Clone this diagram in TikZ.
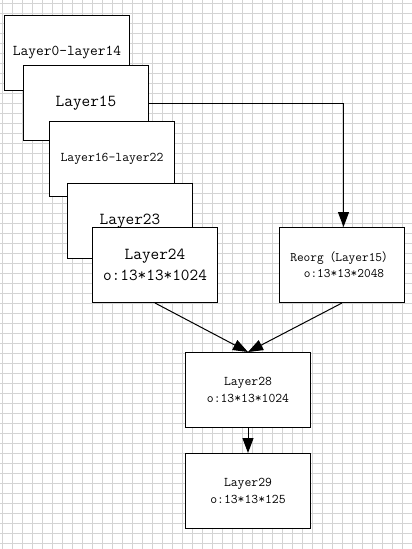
\documentclass[tikz,border=0pt]{standalone}
\usepackage{fontspec}
\newfontfamily\cjk{Noto Sans CJK SC}
\usetikzlibrary{arrows.meta}
\definecolor{gridc}{RGB}{212,212,212}
\begin{document}
\begin{tikzpicture}[x=1pt,y=-1pt,
  box/.style={draw=black,line width=1pt,fill=white,minimum width=125pt,minimum height=75pt,inner sep=0pt,align=center,anchor=north west},
  conn/.style={line width=1pt,-{Triangle[length=15pt,width=11pt]}},
  fbig/.style={font=\ttfamily\fontsize{16.8}{21}\selectfont},
  fmid/.style={font=\ttfamily\fontsize{15}{19}\selectfont},
  fsmall/.style={font=\ttfamily\fontsize{13.3}{17}\selectfont},
  fxs/.style={font=\ttfamily\fontsize{13}{16}\selectfont}]
\useasboundingbox (0,0) rectangle (412,549);
\fill[white] (0,0) rectangle (412,549);
\foreach \i in {2,12,...,412} \draw[gridc,line width=0.7pt] (\i,0) -- (\i,549);
\foreach \j in {3,13,...,549} \draw[gridc,line width=0.7pt] (0,\j) -- (412,\j);

\node[box,fmid] (l0) at (4,15) {Layer0-layer14};
\node[box,fbig] (l15) at (23,65) {Layer15};
\node[box,fsmall] (l16) at (49,121) {Layer16-layer22};
\node[box,fbig] (l23) at (67,183) {Layer23};
\node[box,fbig] (l24) at (92,227) {Layer24\\o:13*13*1024};
\node[box,fxs] (reorg) at (279,227) {Reorg{\cjk\fontsize{11.5}{16}\selectfont （}Layer15{\cjk\fontsize{11.5}{16}\selectfont ）}\\\hspace*{4pt}o:13*13*2048};
\node[box,fsmall] (l28) at (185,352) {Layer28\\o:13*13*1024};
\node[box,fsmall] (l29) at (185,453) {Layer29\\o:13*13*125};

\draw[conn] (l15.east) -| ([xshift=1.5pt]reorg.north);
\draw[conn] (l24.south) -- (l28.north);
\draw[conn] (reorg.south) -- (l28.north);
\draw[conn] (l28.south) -- (l29.north);
\end{tikzpicture}
\end{document}
